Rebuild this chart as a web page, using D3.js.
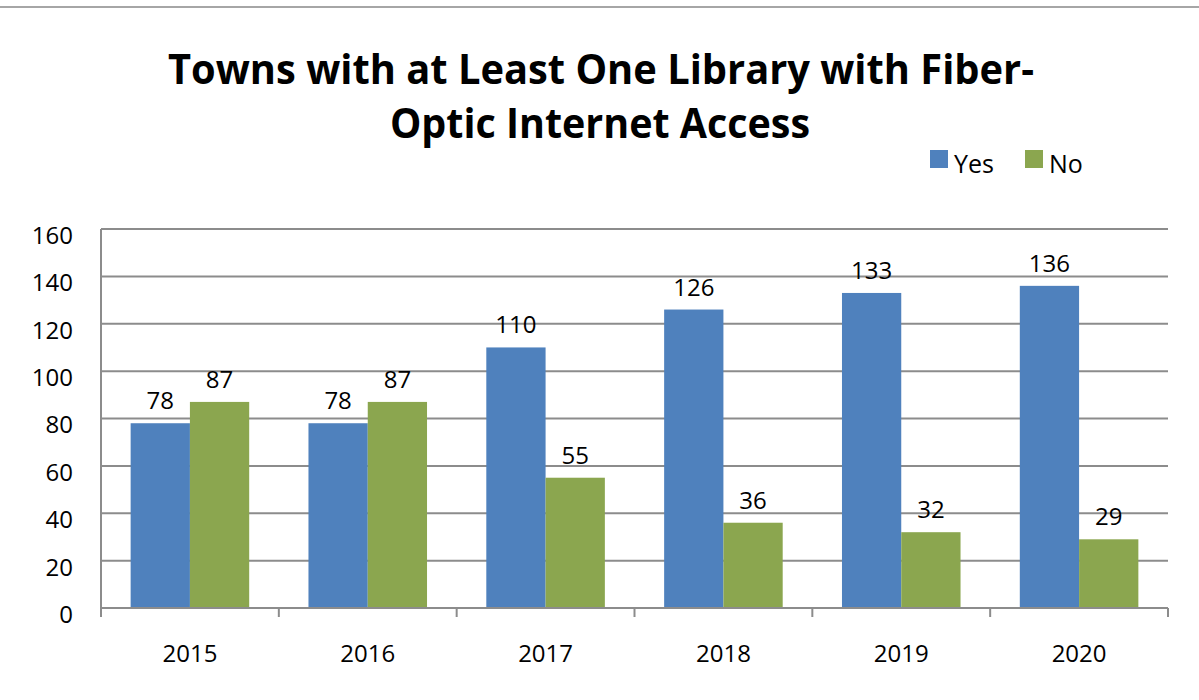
<!DOCTYPE html>
<html>
<head>
<meta charset="utf-8">
<script src="https://cdn.jsdelivr.net/npm/d3@7"></script>
<style>
  body { margin: 0; background: #fff; }
  svg { display: block; font-family: "Open Sans", "Noto Sans", sans-serif; }
</style>
</head>
<body>
<svg id="chart" width="1199" height="700"></svg>
<script>
// chart data
const years = ["2015", "2016", "2017", "2018", "2019", "2020"];
const series = ["Yes", "No"];
const yesValues = [78, 78, 110, 126, 133, 136];
const noValues = [87, 87, 55, 36, 32, 29];
const yTicks = [0, 20, 40, 60, 80, 100, 120, 140, 160];
const titleLines = ["Towns with at Least One Library with Fiber-", "Optic Internet Access"];

const colors = { Yes: "#4F81BD", No: "#8BA64F" };
const gridColor = "#8c8c8c";

const width = 1199, height = 700;
const plot = { left: 101, right: 1168, top: 229, bottom: 608 };

const svg = d3.select("#chart");

const rows = years.map((y, i) => ({ year: y, Yes: yesValues[i], No: noValues[i] }));

// top frame line
svg.append("line")
    .attr("x1", 0).attr("x2", width)
    .attr("y1", 7).attr("y2", 7)
    .attr("stroke", "#a6a6a6")
    .attr("stroke-width", 2);

// title
const title = svg.append("g");
title.append("text")
    .attr("x", 601).attr("y", 84)
    .attr("text-anchor", "middle")
    .attr("font-size", 41).attr("font-weight", "bold")
    .attr("textLength", 866).attr("lengthAdjust", "spacingAndGlyphs")
    .text(titleLines[0]);
title.append("text")
    .attr("x", 600).attr("y", 138)
    .attr("text-anchor", "middle")
    .attr("font-size", 41).attr("font-weight", "bold")
    .attr("textLength", 420).attr("lengthAdjust", "spacingAndGlyphs")
    .text(titleLines[1]);

// scales
const x = d3.scaleBand().domain(years).range([plot.left, plot.right]);
const bw = x.bandwidth();
const xs = d3.scaleBand().domain(series).range([bw / 6, bw * 5 / 6]);
const y = d3.scaleLinear().domain([0, 160]).range([plot.bottom, plot.top]);

// gridlines
svg.append("g")
    .selectAll("line")
    .data(yTicks.filter(d => d > 0))
    .join("line")
    .attr("x1", plot.left).attr("x2", plot.right)
    .attr("y1", d => y(d)).attr("y2", d => y(d))
    .attr("stroke", gridColor)
    .attr("stroke-width", 2);

// bars
const groups = svg.append("g")
    .selectAll("g")
    .data(rows)
    .join("g")
    .attr("transform", d => `translate(${x(d.year)},0)`);

groups.selectAll("rect")
    .data(d => series.map(s => ({ key: s, value: d[s] })))
    .join("rect")
    .attr("x", d => xs(d.key))
    .attr("width", xs.bandwidth())
    .attr("y", d => y(d.value))
    .attr("height", d => y(0) - y(d.value))
    .attr("fill", d => colors[d.key]);

// data labels
groups.selectAll("text")
    .data(d => series.map(s => ({ key: s, value: d[s] })))
    .join("text")
    .attr("x", d => xs(d.key) + xs.bandwidth() / 2)
    .attr("y", d => y(d.value) - 14)
    .attr("text-anchor", "middle")
    .attr("font-size", 24)
    .attr("fill", "#000")
    .text(d => d.value);

// axis lines
svg.append("line")
    .attr("x1", plot.left).attr("x2", plot.left)
    .attr("y1", plot.top).attr("y2", plot.bottom + 9)
    .attr("stroke", gridColor).attr("stroke-width", 2);
svg.append("line")
    .attr("x1", plot.left).attr("x2", plot.right)
    .attr("y1", plot.bottom).attr("y2", plot.bottom)
    .attr("stroke", gridColor).attr("stroke-width", 2);

// category boundary ticks
svg.append("g")
    .selectAll("line")
    .data(years.map(d => x(d)).slice(1).concat([plot.right]))
    .join("line")
    .attr("x1", d => d).attr("x2", d => d)
    .attr("y1", plot.bottom).attr("y2", plot.bottom + 9)
    .attr("stroke", gridColor).attr("stroke-width", 2);

// x axis labels
const xAxis = svg.append("g")
    .attr("transform", `translate(0,${plot.bottom})`)
    .call(d3.axisBottom(x).tickSize(0).tickPadding(0));
xAxis.select(".domain").remove();
xAxis.selectAll("text")
    .attr("y", 54)
    .attr("dy", 0)
    .attr("font-size", 24)
    .attr("font-family", "'Open Sans', sans-serif")
    .attr("fill", "#000");

// y axis labels
const yAxis = svg.append("g")
    .attr("transform", `translate(${plot.left},0)`)
    .call(d3.axisLeft(y).tickValues(yTicks).tickSize(0).tickPadding(28));
yAxis.select(".domain").remove();
yAxis.selectAll("text")
    .attr("dy", "0.6em")
    .attr("font-size", 24)
    .attr("font-family", "'Open Sans', sans-serif")
    .attr("fill", "#000");

// legend
const legend = svg.append("g");
const legendItems = [
    { key: "Yes", sx: 930, tx: 954 },
    { key: "No", sx: 1025, tx: 1049 }
];
legend.selectAll("rect")
    .data(legendItems)
    .join("rect")
    .attr("x", d => d.sx).attr("y", 150)
    .attr("width", 18).attr("height", 18)
    .attr("fill", d => colors[d.key]);
legend.selectAll("text")
    .data(legendItems)
    .join("text")
    .attr("x", d => d.tx).attr("y", 173)
    .attr("font-size", 25)
    .attr("fill", "#000")
    .text(d => d.key);
</script>
</body>
</html>
